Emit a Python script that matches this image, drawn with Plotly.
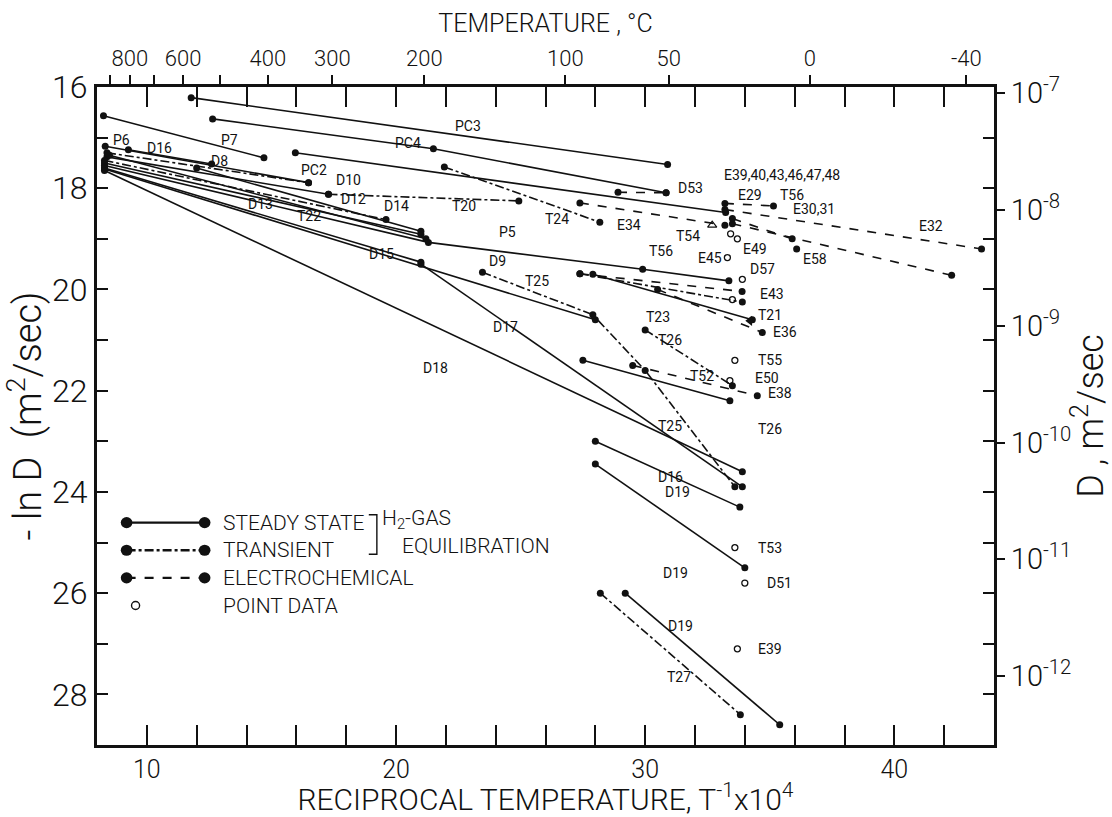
import math
import plotly.graph_objects as go

# ---- axis ranges (x = 10^4/T, y = -ln D) ----
X_RANGE = [8, 44]
Y_RANGE = [29, 16]

# ---- steady state, H2-gas equilibration (solid) ----
pc3_x = [11.78, 30.9]
pc3_y = [16.21, 17.53]
p7_x = [8.26, 14.7]
p7_y = [16.57, 17.4]
pc4_x = [12.64, 21.5, 30.84]
pc4_y = [16.63, 17.22, 18.09]
pc2_x = [15.96, 33.23]
pc2_y = [17.3, 18.48]
p6_x = [8.33, 16.49]
p6_y = [17.17, 17.89]
d16a_x = [9.26, 12.6]
d16a_y = [17.24, 17.52]
d10_x = [8.4, 17.29]
d10_y = [17.38, 18.12]
d12_x = [8.5, 21.2]
d12_y = [17.35, 19.0]
d13_x = [8.3, 21.0]
d13_y = [17.5, 18.91]
d14_x = [12.0, 21.0]
d14_y = [17.6, 18.85]
p5_x = [8.3, 21.3, 29.9, 33.36]
p5_y = [17.55, 19.07, 19.6, 19.83]
d15_x = [8.3, 21.0]
d15_y = [17.6, 19.46]
d16b_x = [21.0, 33.9]
d16b_y = [19.5, 23.9]
d17_x = [8.3, 28.0]
d17_y = [17.62, 20.6]
d18_x = [8.3, 33.9]
d18_y = [17.65, 23.6]
d19a_x = [28.0, 33.8]
d19a_y = [23.0, 24.3]
d19b_x = [28.0, 34.0]
d19b_y = [23.45, 25.5]
d19c_x = [29.2, 35.4]
d19c_y = [26.0, 28.6]
t23s_x = [27.5, 33.4]
t23s_y = [21.4, 22.2]
t21s_x = [27.9, 34.3]
t21s_y = [19.7, 20.6]

steady_state = [
    (pc3_x, pc3_y), (p7_x, p7_y), (pc4_x, pc4_y), (pc2_x, pc2_y),
    (p6_x, p6_y), (d16a_x, d16a_y), (d10_x, d10_y), (d12_x, d12_y),
    (d13_x, d13_y), (d14_x, d14_y), (p5_x, p5_y), (d15_x, d15_y),
    (d16b_x, d16b_y), (d17_x, d17_y), (d18_x, d18_y), (d19a_x, d19a_y),
    (d19b_x, d19b_y), (d19c_x, d19c_y), (t23s_x, t23s_y), (t21s_x, t21s_y),
]

# ---- transient, H2-gas equilibration (dash-dot) ----
d8_x = [8.4, 16.49]
d8_y = [17.3, 17.89]
t22_x = [8.3, 19.6]
t22_y = [17.45, 18.62]
t20_x = [17.29, 24.93]
t20_y = [18.12, 18.25]
t24_x = [21.94, 28.18]
t24_y = [17.58, 18.67]
d9_x = [23.47, 27.9, 30.0, 33.6]
d9_y = [19.66, 20.5, 21.6, 23.9]
t25_x = [27.38, 33.9]
t25_y = [19.69, 20.25]
t27_x = [28.2, 33.82]
t27_y = [26.0, 28.4]
t26_x = [30.0, 33.5]
t26_y = [20.8, 21.9]

transient = [
    (d8_x, d8_y), (t22_x, t22_y), (t20_x, t20_y), (t24_x, t24_y),
    (d9_x, d9_y), (t25_x, t25_y), (t27_x, t27_y), (t26_x, t26_y),
]

# ---- electrochemical (dashed) ----
e32a_x = [33.2, 43.5]
e32a_y = [18.42, 19.2]
e32b_x = [33.5, 42.3]
e32b_y = [18.7, 19.72]
d53_x = [28.91, 30.84]
d53_y = [18.08, 18.09]
e29_x = [33.2, 35.15]
e29_y = [18.3, 18.35]
e58_x = [33.5, 35.9, 36.08]
e58_y = [18.6, 19.0, 19.2]
e34_x = [27.38, 33.2]
e34_y = [18.29, 18.73]
e43_x = [27.38, 33.89]
e43_y = [19.69, 20.04]
e36_x = [30.5, 34.7]
e36_y = [20.0, 20.85]
e38_x = [29.5, 34.5]
e38_y = [21.5, 22.1]

electrochemical = [
    (e32a_x, e32a_y), (e32b_x, e32b_y), (d53_x, d53_y), (e29_x, e29_y),
    (e58_x, e58_y), (e34_x, e34_y), (e43_x, e43_y), (e36_x, e36_y),
    (e38_x, e38_y),
]

# ---- single point data ----
point_x = [33.43, 33.7, 33.3, 33.9, 33.5, 33.6, 33.4, 33.6, 34.0, 33.7]
point_y = [18.9, 19.0, 19.37, 19.8, 20.2, 21.4, 21.8, 25.1, 25.8, 27.1]
tri_open_x = [32.69]
tri_open_y = [18.73]
tri_full_x = [34.2]
tri_full_y = [20.62]

# ---- curve labels ----
label_text = ["PC3", "PC4", "P6", "D16", "P7", "D8", "PC2", "D10", "D12", "D13",
              "T22", "D14", "T20", "T24", "D15", "P5", "D9", "T25", "D17", "D18",
              "E39,40,43,46,47,48", "D53", "E29", "T56", "E30,31", "E34", "T54",
              "T56", "E45", "E49", "E58", "E32", "D57", "E43", "T23", "T21",
              "T26", "E36", "T55", "T52", "E50", "E38", "T25", "T26", "D16",
              "D19", "T53", "D19", "D51", "D19", "E39", "T27"]
label_x = [22.87, 20.48, 8.99, 10.52, 13.3, 12.9, 16.69, 18.09, 18.29, 14.57,
           16.49, 20.01, 22.74, 26.45, 19.41, 24.46, 24.06, 25.66, 24.4, 21.6,
           35.48, 31.83, 34.22, 35.88, 36.78, 29.37, 31.7,
           30.64, 32.6, 34.42, 36.8, 41.46, 34.69, 35.09, 30.5, 35.0,
           31.0, 35.6, 35.0, 32.3, 34.9, 35.4, 31.0, 35.0, 31.0,
           31.3, 35.0, 31.2, 35.4, 31.4, 35.0, 31.35]
label_y = [16.78, 17.11, 17.04, 17.2, 17.04, 17.47, 17.63, 17.83, 18.22, 18.32,
           18.55, 18.35, 18.35, 18.61, 19.3, 18.87, 19.43, 19.83, 20.75, 21.55,
           17.73, 17.99, 18.14, 18.14, 18.42, 18.73, 18.94,
           19.24, 19.37, 19.2, 19.4, 18.74, 19.6, 20.09, 20.55, 20.5,
           21.0, 20.85, 21.4, 21.7, 21.75, 22.05, 22.7, 22.75, 23.7,
           24.0, 25.1, 25.6, 25.8, 26.65, 27.1, 27.65]

# ---- temperature scale along the top ----
temp_labelled = [800, 600, 400, 300, 200, 100, 50, 0, -40]
temp_unlabelled = [900, 700, 500]

# ---- D scale on the right (decades) ----
d_exponents = [7, 8, 9, 10, 11, 12]

FONT = "Roboto, Liberation Sans, sans-serif"
INK = "#111111"

fig = go.Figure()


def add_group(segments, dash):
    for xs, ys in segments:
        fig.add_trace(go.Scatter(
            x=xs, y=ys, mode="lines+markers",
            line=dict(color=INK, width=1.6, dash=dash),
            marker=dict(color=INK, size=7),
            showlegend=False, hoverinfo="skip"))


add_group(steady_state, "solid")
add_group(transient, "dashdot")
add_group(electrochemical, "dash")

fig.add_trace(go.Scatter(
    x=point_x, y=point_y, mode="markers",
    marker=dict(symbol="circle-open", color=INK, size=6, line=dict(width=1.3)),
    showlegend=False, hoverinfo="skip"))
fig.add_trace(go.Scatter(
    x=tri_open_x, y=tri_open_y, mode="markers",
    marker=dict(symbol="triangle-up-open", color=INK, size=8, line=dict(width=1.2)),
    showlegend=False, hoverinfo="skip"))
fig.add_trace(go.Scatter(
    x=tri_full_x, y=tri_full_y, mode="markers",
    marker=dict(symbol="triangle-left", color=INK, size=9),
    showlegend=False, hoverinfo="skip"))

for t, lx, ly in zip(label_text, label_x, label_y):
    fig.add_annotation(x=lx, y=ly, text=t, showarrow=False,
                       xanchor="center", yanchor="middle",
                       font=dict(family=FONT, size=14, color=INK))

# ---- legend block (axis-fraction coordinates) ----
legend_rows = [
    ("STEADY STATE", "solid", True),
    ("TRANSIENT", "dashdot", True),
    ("ELECTROCHEMICAL", "dash", True),
    ("POINT DATA", None, False),
]
row_y0 = 0.338
row_dy = 0.042
for i, (name, dash, line) in enumerate(legend_rows):
    yy = row_y0 - i * row_dy
    if line:
        fig.add_shape(type="line", xref="x domain", yref="y domain",
                      x0=0.033, x1=0.12, y0=yy, y1=yy,
                      line=dict(color=INK, width=2.4, dash=dash))
        for xx in (0.033, 0.12):
            fig.add_shape(type="circle", xref="x domain", yref="y domain",
                          x0=xx - 0.0065, x1=xx + 0.0065,
                          y0=yy - 0.0085, y1=yy + 0.0085,
                          fillcolor=INK, line=dict(color=INK, width=0))
    else:
        fig.add_shape(type="circle", xref="x domain", yref="y domain",
                      x0=0.043 - 0.0045, x1=0.043 + 0.0045,
                      y0=yy - 0.006, y1=yy + 0.006,
                      line=dict(color=INK, width=1.4))
    fig.add_annotation(xref="x domain", yref="y domain", x=0.138, y=yy,
                       text=name, showarrow=False, xanchor="left", yanchor="middle",
                       font=dict(family=FONT, size=21, color=INK, weight=300))

# bracket joining the two gas-phase rows
fig.add_shape(type="path", xref="x domain", yref="y domain",
              path="M 0.303 0.35 L 0.312 0.35 L 0.312 0.29 L 0.303 0.29",
              line=dict(color=INK, width=1.4))
fig.add_annotation(xref="x domain", yref="y domain", x=0.316, y=0.343,
                   text="H<sub>2</sub>-GAS", showarrow=False,
                   xanchor="left", yanchor="middle",
                   font=dict(family=FONT, size=21, color=INK, weight=300))
fig.add_annotation(xref="x domain", yref="y domain", x=0.338, y=0.302,
                   text="EQUILIBRATION", showarrow=False,
                   xanchor="left", yanchor="middle",
                   font=dict(family=FONT, size=21, color=INK, weight=300))

# dummy traces to activate the secondary axes
fig.add_trace(go.Scatter(x=[None], y=[None], xaxis="x2", showlegend=False))
fig.add_trace(go.Scatter(x=[None], y=[None], yaxis="y2", showlegend=False))


def recip(t_c):
    return 1e4 / (t_c + 273.15)


temp_tickvals = [recip(t) for t in temp_labelled]
temp_ticktext = [str(t) for t in temp_labelled]
temp_minor = [recip(t) for t in temp_unlabelled]
d_tickvals = [n * math.log(10) for n in d_exponents]
d_ticktext = ["10<sup>-%d</sup>" % n for n in d_exponents]

fig.update_layout(
    width=1112, height=817,
    margin=dict(l=97, r=112, t=87, b=71),
    paper_bgcolor="white", plot_bgcolor="white",
    font=dict(family=FONT, color=INK),
    showlegend=False,
    xaxis=dict(range=X_RANGE, showgrid=False, zeroline=False,
               showline=True, linecolor=INK, linewidth=3, mirror="allticks",
               ticks="inside", tickmode="array", tickvals=[10, 20, 30, 40],
               ticklen=20, tickwidth=1.5, tickcolor=INK,
               minor=dict(tickvals=[12, 14, 16, 18, 22, 24, 26, 28, 32, 34, 36, 38, 42],
                          ticks="inside", ticklen=13, tickwidth=1.5, tickcolor=INK),
               tickfont=dict(size=25, family=FONT, weight=300),
               title=dict(text="RECIPROCAL TEMPERATURE, T<sup>-1</sup>x10<sup>4</sup>",
                          font=dict(size=30, family=FONT, weight=300), standoff=0)),
    xaxis2=dict(range=X_RANGE, overlaying="x", side="top", showgrid=False,
                zeroline=False, showline=False, ticks="outside", ticklen=11,
                tickwidth=1.5, tickcolor=INK, tickmode="array",
                tickvals=temp_tickvals, ticktext=temp_ticktext,
                minor=dict(tickvals=temp_minor, ticks="outside", ticklen=11,
                           tickwidth=1.5, tickcolor=INK),
                tickfont=dict(size=22, family=FONT, weight=300),
                title=dict(text="TEMPERATURE , °C",
                           font=dict(size=25, family=FONT, weight=300), standoff=6)),
    yaxis=dict(range=Y_RANGE, showgrid=False, zeroline=False,
               showline=True, linecolor=INK, linewidth=3, mirror="allticks",
               ticks="inside", ticklen=11, tickwidth=1.5, tickcolor=INK,
               tickmode="array", tickvals=[16, 18, 20, 22, 24, 26, 28],
               minor=dict(tickvals=[17, 19, 21, 23, 25, 27], ticks="inside",
                          ticklen=11, tickwidth=1.5, tickcolor=INK),
               tickfont=dict(size=32, family=FONT, weight=300),
               title=dict(text="- ln D  (m<sup>2</sup>/sec)",
                          font=dict(size=38, family=FONT, weight=300), standoff=6)),
    yaxis2=dict(range=Y_RANGE, overlaying="y", side="right", showgrid=False,
                zeroline=False, showline=False, ticks="outside", ticklen=10,
                tickwidth=1.5, tickcolor=INK, tickmode="array",
                tickvals=d_tickvals, ticktext=d_ticktext,
                tickfont=dict(size=29, family=FONT, weight=300),
                title=dict(text="D , m<sup>2</sup>/sec",
                           font=dict(size=36, family=FONT, weight=300), standoff=4)),
)

fig.write_html("out.html")
